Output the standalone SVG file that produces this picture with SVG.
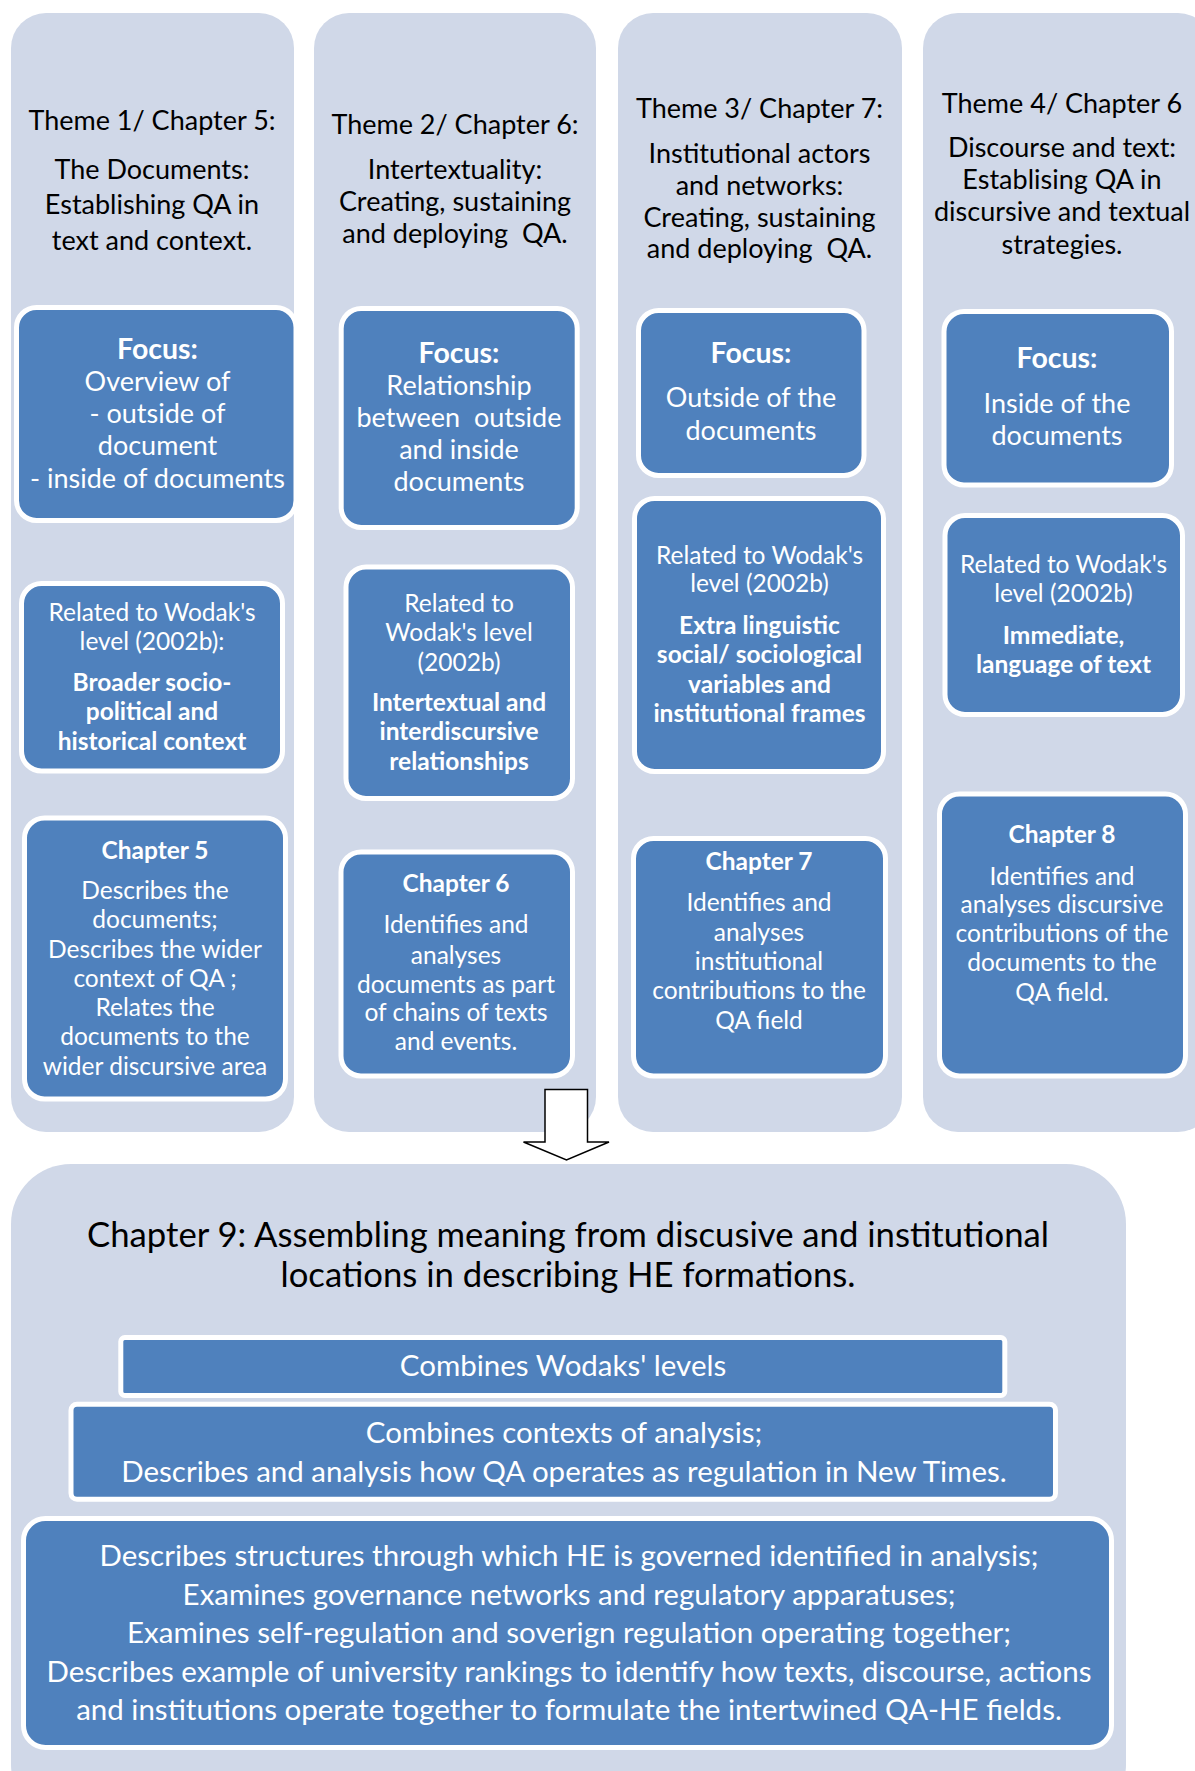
<svg xmlns="http://www.w3.org/2000/svg" width="1195" height="1771" viewBox="0 0 1195 1771">
<style>
.col{fill:#D0D8E8}
.box{fill:#4F81BD;stroke:#FFFFFF;stroke-width:5}
text{font-family:Lato,"Open Sans","Liberation Sans",sans-serif;text-anchor:middle}
.h{font-size:27px;fill:#000}
.f{font-size:27px;fill:#fff}
.f.b{font-size:28.5px}
.s{font-size:24.5px;fill:#fff}
.b{font-weight:bold}
.ti{font-size:34.7px;fill:#000}
.bt{font-size:29.5px;fill:#fff}
.arrow{fill:#fff;stroke:#000;stroke-width:1.5}
</style>
<rect width="1195" height="1771" fill="#fff"/>
<g id="theme1">
<rect class="col" x="11" y="13" width="283" height="1119" rx="35"/>
<text class="h" x="152" y="130.4">Theme 1/ Chapter 5:</text>
<text class="h" x="152" y="178.6">The Documents:</text>
<text class="h" x="152" y="214.3">Establishing QA in</text>
<text class="h" x="152" y="250">text and context.</text>
</g>
<g id="theme2">
<rect class="col" x="314" y="13" width="282" height="1119" rx="35"/>
<text class="h" x="455" y="134">Theme 2/ Chapter 6:</text>
<text class="h" x="455" y="178.6">Intertextuality:</text>
<text class="h" x="455" y="211.4">Creating, sustaining</text>
<text class="h" x="455" y="243" xml:space="preserve">and deploying  QA.</text>
</g>
<g id="theme3">
<rect class="col" x="618" y="13" width="284" height="1119" rx="35"/>
<text class="h" x="759.5" y="118">Theme 3/ Chapter 7:</text>
<text class="h" x="759.5" y="162.5">Institutional actors</text>
<text class="h" x="759.5" y="194.6">and networks:</text>
<text class="h" x="759.5" y="226.8">Creating, sustaining</text>
<text class="h" x="759.5" y="258" xml:space="preserve">and deploying  QA.</text>
</g>
<g id="theme4">
<rect class="col" x="923" y="13" width="290" height="1119" rx="35"/>
<text class="h" x="1062" y="112.5">Theme 4/ Chapter 6</text>
<text class="h" x="1062" y="157">Discourse and text:</text>
<text class="h" x="1062" y="189.3">Establising QA in</text>
<text class="h" x="1062" y="221.4">discursive and textual</text>
<text class="h" x="1062" y="254.3">strategies.</text>
</g>
<g id="focus1">
<rect class="box" x="16.5" y="307.5" width="279.5" height="213" rx="20"/>
<text class="f b" x="157.5" y="359">Focus:</text>
<text class="f" x="157.5" y="391">Overview of</text>
<text class="f" x="157.5" y="423">- outside of</text>
<text class="f" x="157.5" y="455">document</text>
<text class="f" x="157.5" y="487.5">- inside of documents</text>
</g>
<g id="focus2">
<rect class="box" x="341.2" y="308.5" width="236" height="219" rx="20"/>
<text class="f b" x="459" y="362.5">Focus:</text>
<text class="f" x="459" y="394.6">Relationship</text>
<text class="f" x="459" y="426.8" xml:space="preserve">between  outside</text>
<text class="f" x="459" y="459">and inside</text>
<text class="f" x="459" y="491">documents</text>
</g>
<g id="focus3">
<rect class="box" x="638.5" y="310.5" width="225.5" height="165" rx="20"/>
<text class="f b" x="751" y="362.5">Focus:</text>
<text class="f" x="751" y="407">Outside of the</text>
<text class="f" x="751" y="440">documents</text>
</g>
<g id="focus4">
<rect class="box" x="944" y="311.5" width="227.5" height="173.5" rx="20"/>
<text class="f b" x="1057" y="368">Focus:</text>
<text class="f" x="1057" y="412.5">Inside of the</text>
<text class="f" x="1057" y="444.6">documents</text>
</g>
<g id="level1">
<rect class="box" x="21.5" y="583.5" width="261" height="187.5" rx="20"/>
<text class="s" x="152" y="621">Related to Wodak's</text>
<text class="s" x="152" y="650">level (2002b):</text>
<text class="s b" x="152" y="691">Broader socio-</text>
<text class="s b" x="152" y="720">political and</text>
<text class="s b" x="152" y="749.5">historical context</text>
</g>
<g id="level2">
<rect class="box" x="346" y="567" width="226.5" height="231.5" rx="20"/>
<text class="s" x="459" y="612.4">Related to</text>
<text class="s" x="459" y="641">Wodak's level</text>
<text class="s" x="459" y="671">(2002b)</text>
<text class="s b" x="459" y="711">Intertextual and</text>
<text class="s b" x="459" y="740">interdiscursive</text>
<text class="s b" x="459" y="769.7">relationships</text>
</g>
<g id="level3">
<rect class="box" x="634.5" y="498.5" width="249" height="273" rx="20"/>
<text class="s" x="759.5" y="563.5">Related to Wodak's</text>
<text class="s" x="759.5" y="592">level (2002b)</text>
<text class="s b" x="759.5" y="633.5">Extra linguistic</text>
<text class="s b" x="759.5" y="663">social/ sociological</text>
<text class="s b" x="759.5" y="692.8">variables and</text>
<text class="s b" x="759.5" y="722">institutional frames</text>
</g>
<g id="level4">
<rect class="box" x="945" y="515.5" width="237.5" height="199" rx="20"/>
<text class="s" x="1063.5" y="573.4">Related to Wodak's</text>
<text class="s" x="1063.5" y="602">level (2002b)</text>
<text class="s b" x="1063.5" y="644">Immediate,</text>
<text class="s b" x="1063.5" y="673">language of text</text>
</g>
<g id="chapter5">
<rect class="box" x="24.5" y="818" width="261" height="281" rx="20"/>
<text class="s b" x="155" y="858.5">Chapter 5</text>
<text class="s" x="155" y="898.7">Describes the</text>
<text class="s" x="155" y="928">documents;</text>
<text class="s" x="155" y="958">Describes the wider</text>
<text class="s" x="155" y="986.7">context of QA ;</text>
<text class="s" x="155" y="1016">Relates the</text>
<text class="s" x="155" y="1045">documents to the</text>
<text class="s" x="155" y="1074.7">wider discursive area</text>
</g>
<g id="chapter6">
<rect class="box" x="341" y="852" width="231.5" height="224" rx="20"/>
<text class="s b" x="456" y="892">Chapter 6</text>
<text class="s" x="456" y="933">Identifies and</text>
<text class="s" x="456" y="963.7">analyses</text>
<text class="s" x="456" y="992.5">documents as part</text>
<text class="s" x="456" y="1021">of chains of texts</text>
<text class="s" x="456" y="1050">and events.</text>
</g>
<g id="chapter7">
<rect class="box" x="633.5" y="838.5" width="252" height="237.5" rx="20"/>
<text class="s b" x="759" y="870">Chapter 7</text>
<text class="s" x="759" y="911">Identifies and</text>
<text class="s" x="759" y="940.8">analyses</text>
<text class="s" x="759" y="970">institutional</text>
<text class="s" x="759" y="999">contributions to the</text>
<text class="s" x="759" y="1028.8">QA field</text>
</g>
<g id="chapter8">
<rect class="box" x="939.5" y="794" width="246" height="282" rx="20"/>
<text class="s b" x="1062" y="843">Chapter 8</text>
<text class="s" x="1062" y="884.5">Identifies and</text>
<text class="s" x="1062" y="912.9">analyses discursive</text>
<text class="s" x="1062" y="942">contributions of the</text>
<text class="s" x="1062" y="971.4">documents to the</text>
<text class="s" x="1062" y="1001">QA field.</text>
</g>
<g id="connectors">
<polygon class="arrow" points="545,1089.5 587.5,1089.5 587.5,1142 609,1142 566.5,1160 523.5,1142 545,1142"/>
</g>
<g id="chapter9">
<rect class="col" x="11" y="1164" width="1115" height="660" rx="60"/>
<text class="ti" x="568" y="1247">Chapter 9: Assembling meaning from discusive and institutional</text>
<text class="ti" x="568" y="1286.6">locations in describing HE formations.</text>
</g>
<g id="combines-levels">
<rect class="box" x="120.8" y="1337.5" width="884" height="58" rx="4"/>
<text class="bt" x="563" y="1375.7">Combines Wodaks' levels</text>
</g>
<g id="combines-contexts">
<rect class="box" x="71" y="1404.2" width="984.5" height="95" rx="6"/>
<text class="bt" x="564" y="1443">Combines contexts of analysis;</text>
<text class="bt" x="564" y="1482">Describes and analysis how QA operates as regulation in New Times.</text>
</g>
<g id="describes-structures">
<rect class="box" x="23.5" y="1518.5" width="1088" height="229" rx="22"/>
<text class="bt" x="569" y="1565.8">Describes structures through which HE is governed identified in analysis;</text>
<text class="bt" x="569" y="1604.6">Examines governance networks and regulatory apparatuses;</text>
<text class="bt" x="569" y="1643">Examines self-regulation and soverign regulation operating together;</text>
<text class="bt" x="569" y="1682">Describes example of university rankings to identify how texts, discourse, actions</text>
<text class="bt" x="569" y="1720.3">and institutions operate together to formulate the intertwined QA-HE fields.</text>
</g>
</svg>
